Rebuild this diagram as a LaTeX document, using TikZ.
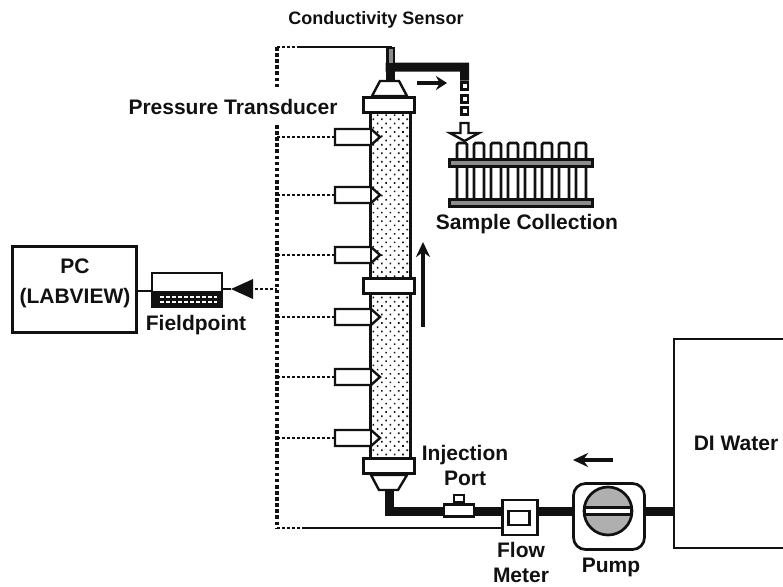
\documentclass[tikz,border=0pt]{standalone}
\usepackage{fontspec}
\setsansfont{Liberation Sans}
\usetikzlibrary{arrows.meta,positioning,calc,patterns.meta}
\definecolor{inkblk}{HTML}{111111}
\definecolor{midgray}{HTML}{8C8C8C}
\tikzset{
  labeltxt/.style={font=\sffamily\bfseries\fontsize{21}{25}\selectfont, text=inkblk, align=center, inner sep=0pt},
  toptxt/.style={labeltxt, font=\sffamily\bfseries\fontsize{18}{21}\selectfont},
  blockbox/.style={draw=inkblk, line width=2.4pt, fill=white, inner sep=0pt},
  collar/.style={draw=inkblk, line width=2.7pt, fill=white, minimum width=51pt, minimum height=15pt, inner sep=0pt},
  pipe/.style={draw=inkblk, line width=9pt, line join=miter},
  bus/.style={draw=inkblk, line width=3.4pt, dash pattern=on 3.6pt off 2.5pt},
  sig/.style={draw=inkblk, line width=2.4pt, dash pattern=on 3.2pt off 1.8pt},
  wire/.style={draw=inkblk, line width=2pt},
  flowarr/.style={-{Stealth[length=15pt,width=14pt]}, draw=inkblk, line width=3.6pt},
  tube/.style={draw=inkblk, line width=2.7pt, fill=white, rounded corners=1.5pt},
  rackbar/.style={draw=inkblk, line width=2.7pt, fill=midgray, minimum width=143pt, minimum height=7pt, inner sep=0pt}}
\begin{document}
\begin{tikzpicture}[x=1pt,y=-1pt]
    \useasboundingbox (0,0) rectangle (783,586);
    % the column
    \node[draw=inkblk, line width=3pt, inner sep=0pt, minimum width=40pt, minimum height=346pt,
          pattern={Dots[distance=6pt,radius=1.15pt,angle=45]}, pattern color=inkblk] (column) at (390,285) {};
    \node[collar] (topcollar) at (389,105) {};
    \node[collar] (midcollar) at (389,286) {};
    \node[collar] (botcollar) at (389,466) {};
    \draw[blockbox] (372,96) -- (380,81) -- (399,81) -- (407,96) -- cycle;
    \draw[blockbox] (371,475) -- (379,490) -- (398,490) -- (407,475) -- cycle;
    % outlet pipe and the drops
    \fill[inkblk] (385.5,47) rectangle (395,81);
    \fill[inkblk] (385.5,62.5) -| (469,80.5) -- (460,80.5) |- (385.5,71.5) -- cycle;
    \fill[midgray] (388.5,49) rectangle (393,63);
    \foreach \y in {86,99,111}
      \draw[blockbox] (461.5,\y-3.5) rectangle (468,\y+3.5);
    \draw[blockbox] (460.5,123) -- (468.5,123) -- (468.5,133) -- (479,133) -- (464.5,141) -- (450,133) -- (460.5,133) -- cycle;
    \draw[flowarr, -{Stealth[length=11pt,width=14pt]}] (417,83) -- (447,83);
    % tubes in the rack
    \foreach \x in {462,479,496,513,530,547,564,581}
      \draw[tube] (\x-5,200) |- (\x+5,143) -- (\x+5,200);
    \node[rackbar] (racktop) at (521,163) {};
    \node[rackbar] (rackbot) at (521,203) {};
    % pressure tappings
    \coordinate (bustop) at (277,47);
    \coordinate (busgap) at (277,87);
    \coordinate (busres) at (277,125);
    \coordinate (busbot) at (277,528);
    \foreach \y [count=\i] in {137,195,255,317,377,438} {
      \coordinate (ps\i) at (335,\y);
      \draw[sig] (277,\y) -- (ps\i);
      \draw[blockbox] (ps\i) ++(0,-8) -- ++(36,0) -- ++(9,8) -- ++(-9,8) -- ++(-36,0) -- cycle;
      \draw[inkblk, line width=2.4pt] (ps\i) ++(36,-8) -- ++(0,16);
    }
    \draw[bus] (bustop) -- (busgap);
    \draw[bus] (busres) -- (busbot);
    \coordinate (sensortap) at (392,47);
    \draw[sig] (bustop) -- (297,47);
    \draw[wire] (297,47) -- (sensortap);
    % feed line
    \node[blockbox, minimum width=110pt, minimum height=209pt] (water) at (729,443.5) {};
    \node[blockbox, rounded corners=12pt, line width=2.7pt, minimum width=71pt, minimum height=66pt] (pump) at (609,516.5) {};
    \node[blockbox, minimum width=35pt, minimum height=35pt] (flowmeter) at (520,517.5) {};
    \draw[pipe] (389,490) |- (flowmeter.west |- 0,511);
    \draw[pipe] (flowmeter.east |- 0,511) -- (pump.west |- 0,511);
    \draw[pipe] (pump.east |- 0,511) -- (water.west |- 0,511);
    \node[blockbox, minimum width=21pt, minimum height=14pt] (flowin) at (519,518) {};
    \node[blockbox, minimum width=30pt, minimum height=12pt] (injport) at (459,510.5) {};
    \node[blockbox, minimum width=10pt, minimum height=7pt, anchor=south] (injknob) at (injport.north) {};
    \node[circle, draw=inkblk, line width=2.7pt, fill=midgray!70!white, minimum size=48pt, inner sep=0pt] (rotor) at (608,511) {};
    \node[blockbox, minimum width=46pt, minimum height=7pt] (slot) at (rotor) {};
    \draw[flowarr] (613,460) -- (573,460);
    \draw[flowarr] (423,327) -- (423,242);
    \coordinate (fmtap) at (302,528);
    \draw[sig] (busbot) -- (fmtap);
    \draw[wire] (fmtap) -- (flowmeter.west |- 0,528);
    % data acquisition
    \node[blockbox, minimum width=124pt, minimum height=86pt] (pc) at (74.5,289.5) {};
    \node[blockbox, minimum width=70pt, minimum height=34pt] (field) at (187,290) {};
    \fill[inkblk] (field.west |- 0,291) rectangle (field.south east);
    \foreach \y in {297,302}
      \draw[white, line width=1.7pt, dash pattern=on 4pt off 2pt] (160,\y) -- (217,\y);
    \draw[wire] (pc.east |- 0,291) -- (field.west |- 0,291);
    \coordinate (trigtip) at (231,289);
    \draw[wire] (field.east |- 0,289) -- (trigtip);
    \fill[inkblk] (trigtip) -- (253,279) -- (253,299) -- cycle;
    \draw[sig] (255,289) -- (277,289);
    % labels
    \node[toptxt] (lblsensor) at (376,20) {Conductivity Sensor};
    \node[labeltxt] (lbltrans) at (233,107) {Pressure Transducer};
    \node[labeltxt] (lblsample) at (527,224) {Sample Collection};
    \node[labeltxt] (lblpc) at (75,283) {PC\\[5pt](LABVIEW)};
    \node[labeltxt] (lblfield) at (196,325) {Fieldpoint};
    \node[labeltxt] (lblinj) at (465,465) {Injection\\Port};
    \node[labeltxt] (lblflow) at (521,562) {Flow\\Meter};
    \node[labeltxt] (lblpump) at (611,567) {Pump};
    \node[labeltxt] (lblwater) at (736,443) {DI Water};
  \end{tikzpicture}
\end{document}
